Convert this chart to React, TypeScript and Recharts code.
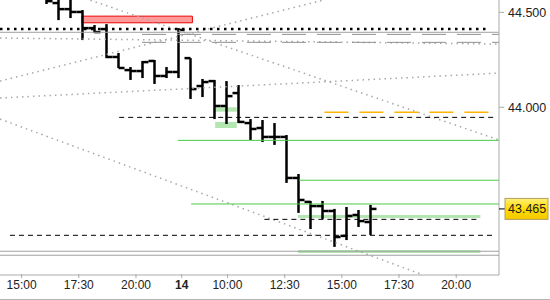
import * as React from 'react';
import {
  ComposedChart,
  Bar,
  XAxis,
  YAxis,
  ReferenceLine,
  ReferenceArea,
} from 'recharts';

// 30 min bars
const opens = [44.600, 44.549, 44.517, 44.502, 44.417, 44.412, 44.265, 44.196, 44.191, 44.244, 44.165, 44.186, 44.259, 44.112, 44.138, 44.007, 44.075, 43.917, 43.891, 43.844, 43.844, 43.628, 43.502, 43.480, 43.454, 43.323, 43.433, 43.396];
const highs = [44.620, 44.568, 44.568, 44.512, 44.433, 44.438, 44.286, 44.212, 44.244, 44.249, 44.212, 44.417, 44.259, 44.149, 44.144, 44.138, 44.117, 43.938, 43.933, 43.917, 43.854, 43.649, 43.507, 43.507, 43.465, 43.475, 43.459, 43.486];
const lows = [44.544, 44.459, 44.470, 44.354, 44.391, 44.259, 44.207, 44.144, 44.154, 44.123, 44.154, 44.154, 44.044, 44.054, 43.938, 43.912, 43.917, 43.828, 43.817, 43.802, 43.602, 43.444, 43.359, 43.412, 43.265, 43.301, 43.370, 43.328];
const closes = [44.559, 44.517, 44.502, 44.417, 44.396, 44.265, 44.207, 44.191, 44.238, 44.165, 44.186, 44.407, 44.096, 44.133, 44.007, 44.059, 43.923, 43.886, 43.844, 43.844, 43.628, 43.512, 43.480, 43.454, 43.317, 43.428, 43.401, 43.465];

const lastPrice = 43.465;
const priceTicks = [44.5, 44.0];

// time axis (session hours, day 14 continues after 22:00)
const tickLabels = ['15:00', '17:30', '20:00', '14', '10:00', '12:30', '15:00', '17:30', '20:00'];
const tickHours = [15, 17.5, 20, 22, 24, 26.5, 29, 31.5, 34];

// horizontal levels
const dottedLevel = 44.412;
const greySolid = [44.395, 43.242, 43.221];
const greyDashed = [44.384, 44.342];
const greenLevels = [43.826, 43.616, 43.491];
const greenStarts = [11.0, 21.1, 12.1];
const blackDashed = [43.947, 43.410, 43.326];
const blackDashedFrom = [6.1, 18.2, -3.0];
const blackDashedTo = [37.3, 36.2, 37.3];
const orangeLevel = 43.974;

// zones
const redZone = { x1: 3.0, x2: 12.2, y1: 44.445, y2: 44.480 };
const greenZones = [
  { x1: 14.1, x2: 15.9, y1: 43.977, y2: 44.0 },
  { x1: 14.1, x2: 15.9, y1: 43.891, y2: 43.923 },
  { x1: 21.0, x2: 36.2, y1: 43.417, y2: 43.433 },
  { x1: 21.0, x2: 36.2, y1: 43.233, y2: 43.249 },
];

// dotted trend lines [x1, y1, x2, y2]
const trendLines = [
  [-3.83, 44.138, 23.1, 44.564],
  [-3.83, 44.049, 37.75, 44.180],
  [-3.83, 44.365, 37.75, 44.333],
  [-3.83, 43.938, 31.4, 43.118],
  [3.7, 44.564, 37.75, 43.828],
];

const X_MIN = -3.83;
const X_MAX = 37.75;
const Y_MIN = 43.117;
const Y_MAX = 44.565;

const data = closes.map((c, i) => ({ i, o: opens[i], h: highs[i], l: lows[i], c }));

const hourToIndex = (t: number) => -2.03 + (t - 15) * 1.906;
const xTicks = tickHours.map(hourToIndex);

const FONT = '"Liberation Sans", Arial, sans-serif';

function OhlcBar(props: any) {
  const { x, y, width, height, payload } = props;
  if (x == null || y == null || !payload) return null;
  const cx = Math.round(x + width / 2) + 0.5;
  const top = Math.min(y, y + height);
  const span = Math.abs(height);
  const toY = (v: number) => top + ((payload.h - v) / (payload.h - payload.l)) * span;
  return (
    <g>
      <line x1={cx} x2={cx} y1={top} y2={top + span} stroke="#000" strokeWidth={2.5} />
      <line x1={cx - 6} x2={cx} y1={toY(payload.o)} y2={toY(payload.o)} stroke="#000" strokeWidth={2.5} />
      <line x1={cx} x2={cx + 6} y1={toY(payload.c)} y2={toY(payload.c)} stroke="#000" strokeWidth={2.5} />
    </g>
  );
}

function TimeTick(props: any) {
  const { x, y, index } = props;
  const label = tickLabels[index];
  const bold = label === '14';
  return (
    <g>
      <line x1={x} x2={x} y1={y - 9} y2={y - 5} stroke="#aaa" />
      <text x={x} y={y + 6} textAnchor="middle" fontSize={12} fontFamily={FONT} fontWeight={bold ? 'bold' : 'normal'} fill="#222">
        {label}
      </text>
    </g>
  );
}

function PriceTick(props: any) {
  const { x, y, payload } = props;
  const v = payload.value;
  if (v === lastPrice) {
    return (
      <g>
        <line x1={x - 8} x2={x - 2} y1={y} y2={y} stroke="#000" />
        <rect x={x - 2} y={y - 10.5} width={43} height={21} fill="url(#lastGrad)" stroke="#b0a060" />
        <text x={x + 1} y={y} dy="0.36em" fontSize={12.5} fontFamily={FONT} fill="#222">
          {v.toFixed(3)}
        </text>
      </g>
    );
  }
  return (
    <g>
      <line x1={x - 8} x2={x - 3} y1={y} y2={y} stroke="#aaa" />
      <text x={x + 1} y={y} dy="0.36em" fontSize={12.5} fontFamily={FONT} fill="#222">
        {v.toFixed(3)}
      </text>
    </g>
  );
}

export default function App() {
  return (
    <div style={{ position: 'absolute', left: 0, top: 0, width: 550, height: 300, background: '#fff' }}>
      <div style={{ width: 550, height: 299, borderBottom: '1px solid #b5b5b5' }}>
        <ComposedChart width={550} height={299} data={data} margin={{ top: 0, right: 0, bottom: 0, left: 0 }}>
          <defs>
            <linearGradient id="lastGrad" x1="0" y1="0" x2="0" y2="1">
              <stop offset="0%" stopColor="#fff07a" />
              <stop offset="50%" stopColor="#ffdc00" />
              <stop offset="100%" stopColor="#f5c800" />
            </linearGradient>
          </defs>
          <XAxis
            dataKey="i"
            type="number"
            domain={[X_MIN, X_MAX]}
            allowDataOverflow
            ticks={xTicks}
            interval={0}
            height={24}
            axisLine={{ stroke: '#aaa' }}
            tickLine={false}
            tick={<TimeTick />}
          />
          <YAxis
            orientation="right"
            type="number"
            domain={[Y_MIN, Y_MAX]}
            allowDataOverflow
            ticks={[...priceTicks, lastPrice]}
            interval={0}
            width={51}
            axisLine={{ stroke: '#aaa' }}
            tickLine={false}
            tickSize={5}
            tickMargin={3}
            tick={<PriceTick />}
          />

          {trendLines.map((t, k) => (
            <ReferenceLine
              key={'t' + k}
              segment={[{ x: t[0], y: t[1] }, { x: t[2], y: t[3] }]}
              stroke="#a8a8a8"
              strokeWidth={1.5}
              strokeDasharray="1.5 4"
            />
          ))}

          {greySolid.map((v, k) => (
            <ReferenceLine key={'gs' + k} y={v} stroke="#a0a0a0" />
          ))}
          {greyDashed.map((v, k) => (
            <ReferenceLine
              key={'gd' + k}
              segment={[{ x: 8.0, y: v }, { x: X_MAX, y: v }]}
              stroke="#909090"
              strokeDasharray="24 11"
            />
          ))}

          <ReferenceLine
            segment={[{ x: X_MIN, y: dottedLevel }, { x: 37.0, y: dottedLevel }]}
            stroke="#000"
            strokeWidth={2.5}
            strokeDasharray="2.5 4.5"
          />

          <ReferenceArea
            x1={redZone.x1}
            x2={redZone.x2}
            y1={redZone.y1}
            y2={redZone.y2}
            fill="#ff9a9a"
            fillOpacity={1}
            stroke="#e80000"
            strokeWidth={1}
          />

          {greenZones.map((z, k) => (
            <ReferenceArea key={'gz' + k} x1={z.x1} x2={z.x2} y1={z.y1} y2={z.y2} fill="#b3e6b0" fillOpacity={1} stroke="none" />
          ))}

          {greenLevels.map((v, k) => (
            <ReferenceLine key={'g' + k} segment={[{ x: greenStarts[k], y: v }, { x: X_MAX, y: v }]} stroke="#44cc44" />
          ))}

          {blackDashed.map((v, k) => (
            <ReferenceLine
              key={'bd' + k}
              segment={[{ x: blackDashedFrom[k], y: v }, { x: blackDashedTo[k], y: v }]}
              stroke="#000"
              strokeDasharray="5 4"
            />
          ))}

          <ReferenceLine
            segment={[{ x: 23.2, y: orangeLevel }, { x: 36.9, y: orangeLevel }]}
            stroke="#ffb400"
            strokeWidth={1.5}
            strokeDasharray="24 11"
          />

          <Bar dataKey={(d: any) => [d.l, d.h]} barSize={3} shape={<OhlcBar />} isAnimationActive={false} />
        </ComposedChart>
      </div>
    </div>
  );
}
